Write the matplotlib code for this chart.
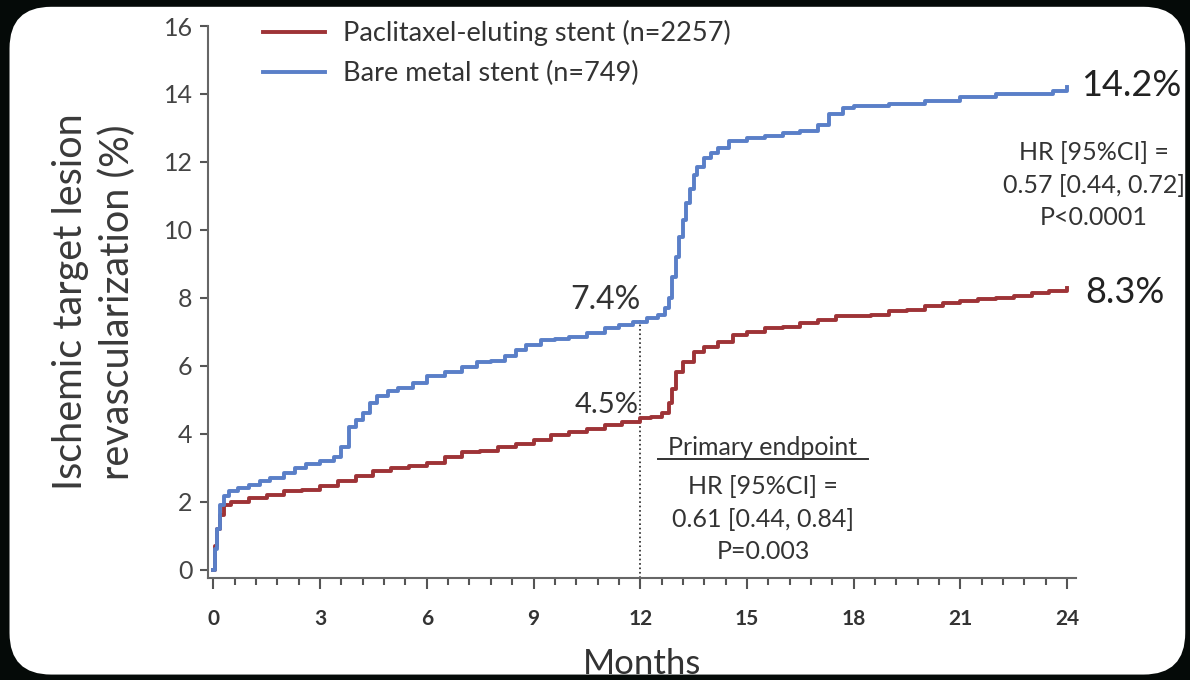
import numpy as np
import matplotlib
matplotlib.use("Agg")
from matplotlib import pyplot as plt
from matplotlib.ticker import MultipleLocator
from matplotlib.patches import FancyBboxPatch

plt.rcParams['font.family'] = ['Lato', 'DejaVu Sans']

# paclitaxel-eluting stent (red)
red_t = [0, 0.05, 0.1, 0.2, 0.3, 0.5, 1.0, 1.5, 2.0, 2.5, 3.0, 3.5, 4.0, 4.5, 5.0, 5.5, 6.0, 6.5,
         7.0, 7.5, 8.0, 8.5, 9.0, 9.5, 10.0, 10.5, 11.0, 11.5, 12.0, 12.3, 12.6, 12.8, 12.9, 13.0,
         13.2, 13.5, 13.8, 14.2, 14.6, 15.0, 15.5, 16.0, 16.5, 17.0, 17.5, 18.0, 18.5, 19.0, 19.5,
         20.0, 20.5, 21.0, 21.5, 22.0, 22.5, 23.0, 23.5, 24.0]
red_v = [0, 0.7, 1.2, 1.6, 1.9, 2.0, 2.1, 2.2, 2.3, 2.35, 2.45, 2.6, 2.75, 2.9, 3.0, 3.05, 3.15, 3.3,
         3.45, 3.5, 3.6, 3.7, 3.8, 3.95, 4.05, 4.15, 4.25, 4.35, 4.45, 4.5, 4.6, 4.9, 5.3, 5.8,
         6.1, 6.4, 6.55, 6.7, 6.9, 7.0, 7.1, 7.15, 7.25, 7.35, 7.45, 7.45, 7.5, 7.6, 7.65,
         7.75, 7.85, 7.9, 7.95, 8.0, 8.05, 8.15, 8.2, 8.3]

# bare metal stent (blue)
blue_t = [0, 0.05, 0.1, 0.2, 0.3, 0.45, 0.7, 1.0, 1.3, 1.6, 2.0, 2.3, 2.6, 3.0, 3.4, 3.6, 3.8, 4.0,
          4.2, 4.4, 4.6, 4.9, 5.2, 5.6, 6.0, 6.5, 7.0, 7.4, 7.8, 8.2, 8.5, 8.8, 9.2, 9.6, 10.0,
          10.5, 11.0, 11.4, 11.8, 12.2, 12.5, 12.7, 12.8, 12.9, 13.0, 13.1, 13.2, 13.3, 13.4, 13.5,
          13.6, 13.8, 14.0, 14.2, 14.5, 15.0, 15.5, 16.0, 16.5, 17.0, 17.3, 17.7, 18.0, 19.0, 20.0,
          21.0, 22.0, 23.0, 23.6, 24.0]
blue_v = [0, 0.6, 1.2, 1.9, 2.15, 2.3, 2.4, 2.5, 2.6, 2.7, 2.85, 3.0, 3.1, 3.2, 3.3, 3.6, 4.2, 4.4,
          4.6, 4.9, 5.1, 5.25, 5.35, 5.5, 5.7, 5.8, 5.95, 6.1, 6.15, 6.3, 6.45, 6.6, 6.75, 6.8, 6.85,
          6.95, 7.1, 7.2, 7.3, 7.4, 7.5, 7.7, 8.0, 8.6, 9.2, 9.8, 10.3, 10.8, 11.2, 11.6,
          11.85, 12.1, 12.25, 12.4, 12.6, 12.7, 12.75, 12.85, 12.9, 13.1, 13.4, 13.6, 13.65, 13.7, 13.8,
          13.9, 14.0, 14.0, 14.1, 14.2]

x_ticks = [0, 3, 6, 9, 12, 15, 18, 21, 24]
y_ticks = [0, 2, 4, 6, 8, 10, 12, 14, 16]

fig = plt.figure(figsize=(11.9, 6.8), dpi=100, facecolor='#050a08')
# painel branco arredondado do slide (atrás de tudo)
painel = FancyBboxPatch((0.008, 0.008), 0.988, 0.982, boxstyle="round,pad=0,rounding_size=0.035",
                        transform=fig.transFigure, facecolor='white', edgecolor='none',
                        mutation_aspect=11.9 / 6.8, zorder=-10)
fig.patches.append(painel)

ax = fig.add_axes([208 / 1190, 1 - 578 / 680, (1076 - 208) / 1190, (578 - 26) / 680])
ax.set_facecolor('none')
ax.set_zorder(5)

cor_red = '#9e3337'
cor_blue = '#5a7fc8'
ax.step(red_t, red_v, where='post', color=cor_red, lw=2.8, label='Paclitaxel-eluting stent (n=2257)', zorder=3)
ax.step(blue_t, blue_v, where='post', color=cor_blue, lw=2.8, label='Bare metal stent (n=749)', zorder=3)

ax.set_xlim(-0.15, 24.25)
ax.set_ylim(-0.25, 16)
ax.plot([12, 12], [-0.25, 7.4], ls=':', color='#222222', lw=1.2, zorder=2)

for s in ['top', 'right']:
    ax.spines[s].set_visible(False)
for s in ['left', 'bottom']:
    ax.spines[s].set_color('#666666')
    ax.spines[s].set_linewidth(1.5)

ax.set_xticks(x_ticks)
ax.set_yticks(y_ticks)
ax.xaxis.set_minor_locator(MultipleLocator(0.6))
ax.tick_params(axis='x', which='major', length=8, width=1.5, color='#555555', labelsize=15,
               labelcolor='#333333', pad=14)
ax.tick_params(axis='x', which='minor', length=5, width=1.5, color='#555555')
ax.tick_params(axis='y', which='major', length=6, width=1.5, color='#555555', labelsize=18,
               labelcolor='#444444', pad=5)
for lb in ax.get_xticklabels():
    lb.set_fontweight('bold')

ax.set_ylabel('Ischemic target lesion\nrevascularization (%)', fontsize=28.5, color='#3a3a3a',
              labelpad=20, linespacing=1.3)
ax.set_xlabel('Months', fontsize=25, color='#333333', labelpad=14)

leg = ax.legend(loc='upper left', bbox_to_anchor=(0.035, 1.055), frameon=False, fontsize=19.5,
                handlelength=2.3, handletextpad=0.65, labelspacing=0.55)
for t in leg.get_texts():
    t.set_color('#333333')

ax.text(12, 7.5, '7.4%', ha='right', va='bottom', fontsize=23, color='#333333')
ax.text(11.95, 4.45, '4.5%', ha='right', va='bottom', fontsize=21, color='#333333')
ax.text(24.4, 14.25, '14.2%', ha='left', va='center', fontsize=26, color='#222222', clip_on=False)
ax.text(24.5, 8.15, '8.3%', ha='left', va='center', fontsize=26, color='#222222', clip_on=False)

ax.text(15.45, 3.6, 'Primary endpoint', ha='center', va='center', fontsize=18, color='#333333')
ax.plot([12.5, 18.4], [3.25, 3.25], color='#333333', lw=1.4)
ax.text(15.45, 2.78, 'HR [95%CI] =\n0.61 [0.44, 0.84]\nP=0.003', ha='center', va='top',
        fontsize=18, color='#333333', linespacing=1.5)
ax.text(24.75, 12.6, 'HR [95%CI] =\n0.57 [0.44, 0.72]\nP<0.0001', ha='center', va='top',
        fontsize=18, color='#333333', linespacing=1.5, clip_on=False)

fig.savefig('out.png', dpi=100, facecolor=fig.get_facecolor())
